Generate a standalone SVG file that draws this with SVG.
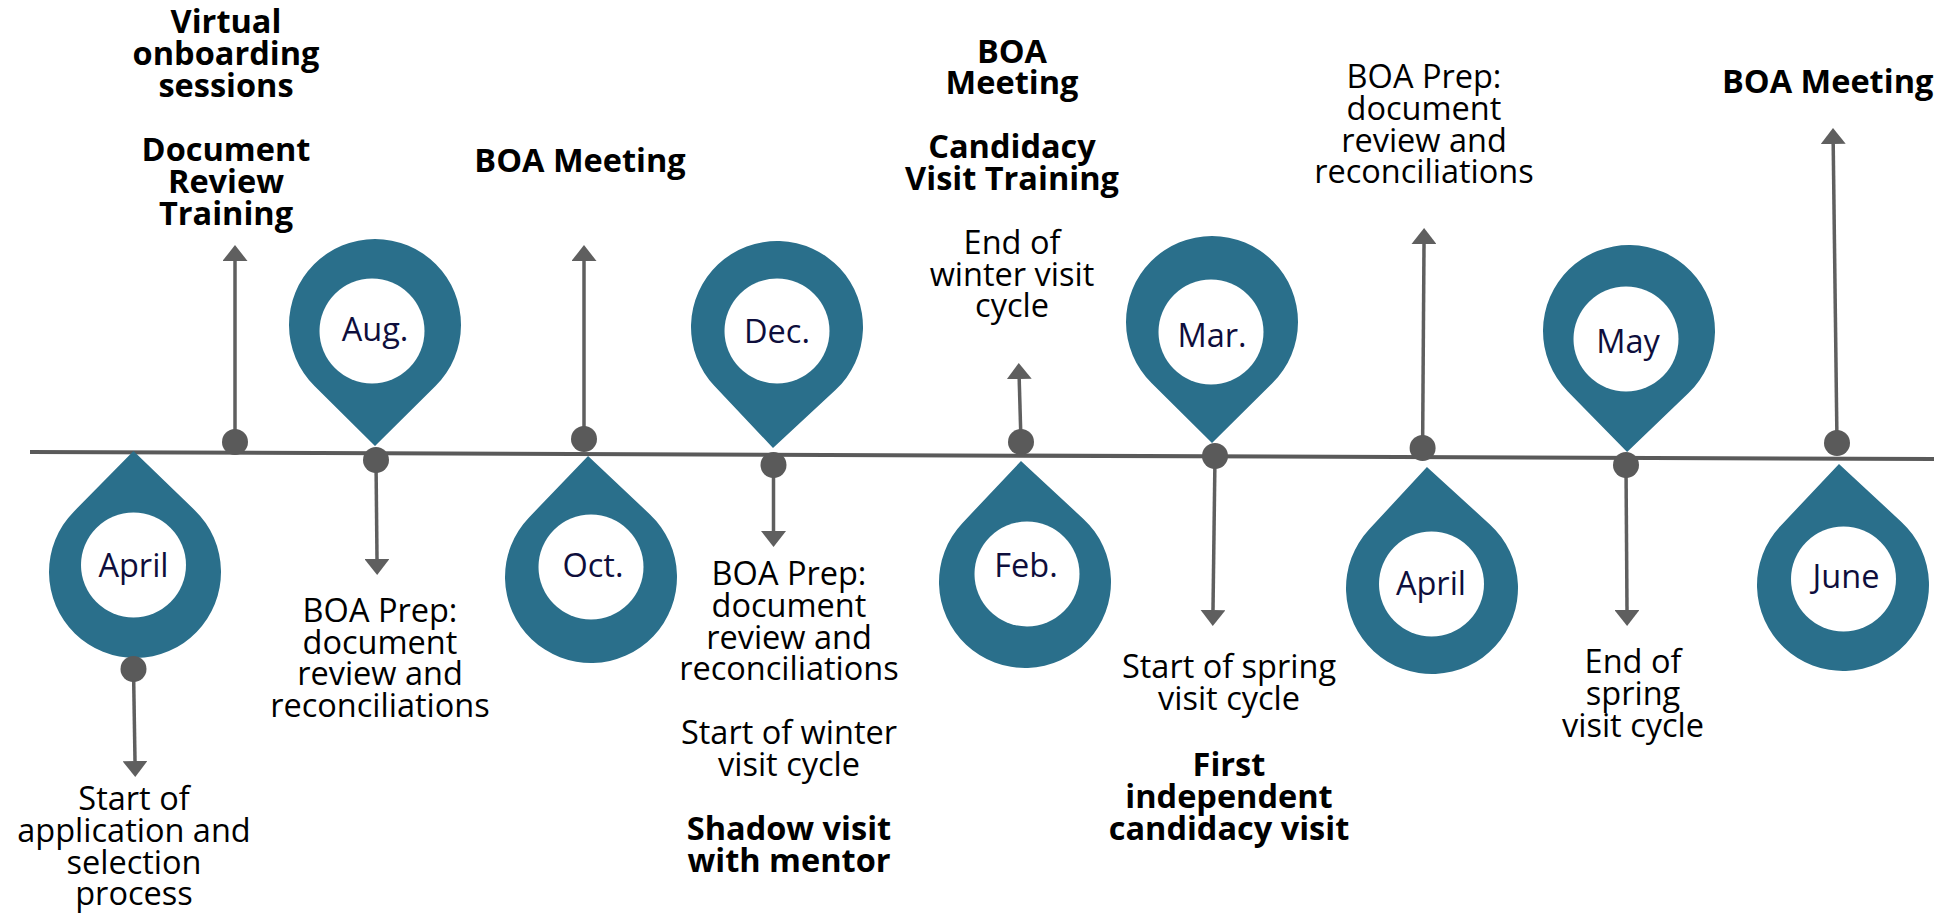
<svg xmlns="http://www.w3.org/2000/svg" xmlns:xlink="http://www.w3.org/1999/xlink" width="1934" height="914" viewBox="0 0 1934 914">
<style>
.t{font-family:"Open Sans","Noto Sans",sans-serif;font-size:32.5px;fill:#000;text-anchor:middle}
.b{font-weight:700}
.m{fill:#0e0e3c}
.pin{fill:#2a6f8b}
.hole{fill:#fff}
.shaft{stroke:#5f5f5f;stroke-width:3.5;fill:none}
.dot{fill:#5a5a5a}
.axis{stroke:#5a5a5a;stroke-width:4}
</style>
<defs>
<path id="pinDown" d="M-60.5,61.1 A86,86 0 1 1 60.5,61.1 L0,121 Z"/>
<path id="pinUp" d="M-60.5,-61.1 A86,86 0 1 0 60.5,-61.1 L0,-121 Z"/>
<marker id="ah" viewBox="0 0 16 25" refX="0" refY="12.5" markerWidth="16" markerHeight="25" markerUnits="userSpaceOnUse" orient="auto">
<path d="M0,0 L16,12.5 L0,25 Z" fill="#5f5f5f"/>
</marker>
</defs>
<rect width="1934" height="914" fill="#fff"/>
<line id="timeline" class="axis" x1="30" y1="452" x2="1934" y2="459"/>

<g id="pin-april1">
<use xlink:href="#pinUp" class="pin" transform="translate(135,572) rotate(-0.7)"/>
<circle class="hole" cx="133.5" cy="565" r="52.5"/>
<text class="t m" x="133.5" y="577">April</text>
</g>
<g id="pin-aug">
<use xlink:href="#pinDown" class="pin" transform="translate(375,325)"/>
<circle class="hole" cx="372" cy="331" r="52.5"/>
<text class="t m" x="375" y="341">Aug.</text>
</g>
<g id="pin-oct">
<use xlink:href="#pinUp" class="pin" transform="translate(591,577) rotate(-1.4)"/>
<circle class="hole" cx="591" cy="567" r="52.5"/>
<text class="t m" x="593" y="577">Oct.</text>
</g>
<g id="pin-dec">
<use xlink:href="#pinDown" class="pin" transform="translate(777,327) rotate(1.9)"/>
<circle class="hole" cx="777" cy="331" r="52.5"/>
<text class="t m" x="777" y="343">Dec.</text>
</g>
<g id="pin-feb">
<use xlink:href="#pinUp" class="pin" transform="translate(1025,582) rotate(-1.9)"/>
<circle class="hole" cx="1027" cy="574" r="52.5"/>
<text class="t m" x="1026" y="577">Feb.</text>
</g>
<g id="pin-mar">
<use xlink:href="#pinDown" class="pin" transform="translate(1212,322)"/>
<circle class="hole" cx="1211" cy="332" r="52.5"/>
<text class="t m" x="1212" y="347">Mar.</text>
</g>
<g id="pin-april2">
<use xlink:href="#pinUp" class="pin" transform="translate(1432,588) rotate(-2.4)"/>
<circle class="hole" cx="1431.5" cy="584" r="52.5"/>
<text class="t m" x="1431" y="595">April</text>
</g>
<g id="pin-may">
<use xlink:href="#pinDown" class="pin" transform="translate(1629,331) rotate(0.9)"/>
<circle class="hole" cx="1626" cy="339" r="52.5"/>
<text class="t m" x="1628" y="353">May</text>
</g>
<g id="pin-june">
<use xlink:href="#pinUp" class="pin" transform="translate(1843,585) rotate(-1.9)"/>
<circle class="hole" cx="1843.5" cy="579" r="52.5"/>
<text class="t m" x="1846" y="588">June</text>
</g>

<g id="connectors">
<line class="shaft" x1="235" y1="442" x2="235" y2="261" marker-end="url(#ah)"/>
<line class="shaft" x1="584" y1="439" x2="584" y2="261" marker-end="url(#ah)"/>
<line class="shaft" x1="1021" y1="442" x2="1019.2" y2="379" marker-end="url(#ah)"/>
<line class="shaft" x1="1422.6" y1="448" x2="1424" y2="244" marker-end="url(#ah)"/>
<line class="shaft" x1="1837" y1="443" x2="1833.2" y2="144" marker-end="url(#ah)"/>
<line class="shaft" x1="133.5" y1="669" x2="135" y2="761" marker-end="url(#ah)"/>
<line class="shaft" x1="376" y1="460" x2="377" y2="559" marker-end="url(#ah)"/>
<line class="shaft" x1="773.5" y1="465" x2="773.5" y2="531" marker-end="url(#ah)"/>
<line class="shaft" x1="1215" y1="456" x2="1213" y2="610" marker-end="url(#ah)"/>
<line class="shaft" x1="1626" y1="465" x2="1627" y2="610" marker-end="url(#ah)"/>
<circle class="dot" cx="235" cy="442" r="13"/>
<circle class="dot" cx="584" cy="439" r="13"/>
<circle class="dot" cx="1021" cy="442" r="13"/>
<circle class="dot" cx="1422.6" cy="448" r="13"/>
<circle class="dot" cx="1837" cy="443" r="13"/>
<circle class="dot" cx="133.5" cy="669" r="13"/>
<circle class="dot" cx="376" cy="460" r="13"/>
<circle class="dot" cx="773.5" cy="465" r="13"/>
<circle class="dot" cx="1215" cy="456" r="13"/>
<circle class="dot" cx="1626" cy="465" r="13"/>
</g>

<g id="labels">
<text class="t b"><tspan x="226" y="33">Virtual</tspan><tspan x="226" y="64.5">onboarding</tspan><tspan x="226" y="96.5">sessions</tspan></text>
<text class="t b"><tspan x="226" y="161">Document</tspan><tspan x="226" y="193">Review</tspan><tspan x="226" y="224.5">Training</tspan></text>
<text class="t b" x="580" y="172">BOA Meeting</text>
<text class="t b"><tspan x="1012" y="63">BOA</tspan><tspan x="1012" y="94">Meeting</tspan></text>
<text class="t b"><tspan x="1012" y="158">Candidacy</tspan><tspan x="1012" y="190">Visit Training</tspan></text>
<text class="t"><tspan x="1012" y="254">End of</tspan><tspan x="1012" y="286">winter visit</tspan><tspan x="1012" y="317">cycle</tspan></text>
<text class="t"><tspan x="1424" y="88">BOA Prep:</tspan><tspan x="1424" y="120">document</tspan><tspan x="1424" y="152">review and</tspan><tspan x="1424" y="183">reconciliations</tspan></text>
<text class="t b" x="1722" y="93" style="text-anchor:start">BOA Meeting</text>
<text class="t"><tspan x="380" y="622">BOA Prep:</tspan><tspan x="380" y="653.5">document</tspan><tspan x="380" y="685">review and</tspan><tspan x="380" y="717">reconciliations</tspan></text>
<text class="t"><tspan x="134" y="810">Start of</tspan><tspan x="134" y="842">application and</tspan><tspan x="134" y="873.5">selection</tspan><tspan x="134" y="905">process</tspan></text>
<text class="t"><tspan x="789" y="585">BOA Prep:</tspan><tspan x="789" y="617">document</tspan><tspan x="789" y="648.5">review and</tspan><tspan x="789" y="680">reconciliations</tspan></text>
<text class="t"><tspan x="789" y="744">Start of winter</tspan><tspan x="789" y="775.5">visit cycle</tspan></text>
<text class="t b"><tspan x="789" y="840">Shadow visit</tspan><tspan x="789" y="872">with mentor</tspan></text>
<text class="t"><tspan x="1229" y="678">Start of spring</tspan><tspan x="1229" y="710">visit cycle</tspan></text>
<text class="t b"><tspan x="1229" y="776">First</tspan><tspan x="1229" y="808">independent</tspan><tspan x="1229" y="840">candidacy visit</tspan></text>
<text class="t"><tspan x="1633" y="673">End of</tspan><tspan x="1633" y="705">spring</tspan><tspan x="1633" y="737">visit cycle</tspan></text>
</g>
</svg>
